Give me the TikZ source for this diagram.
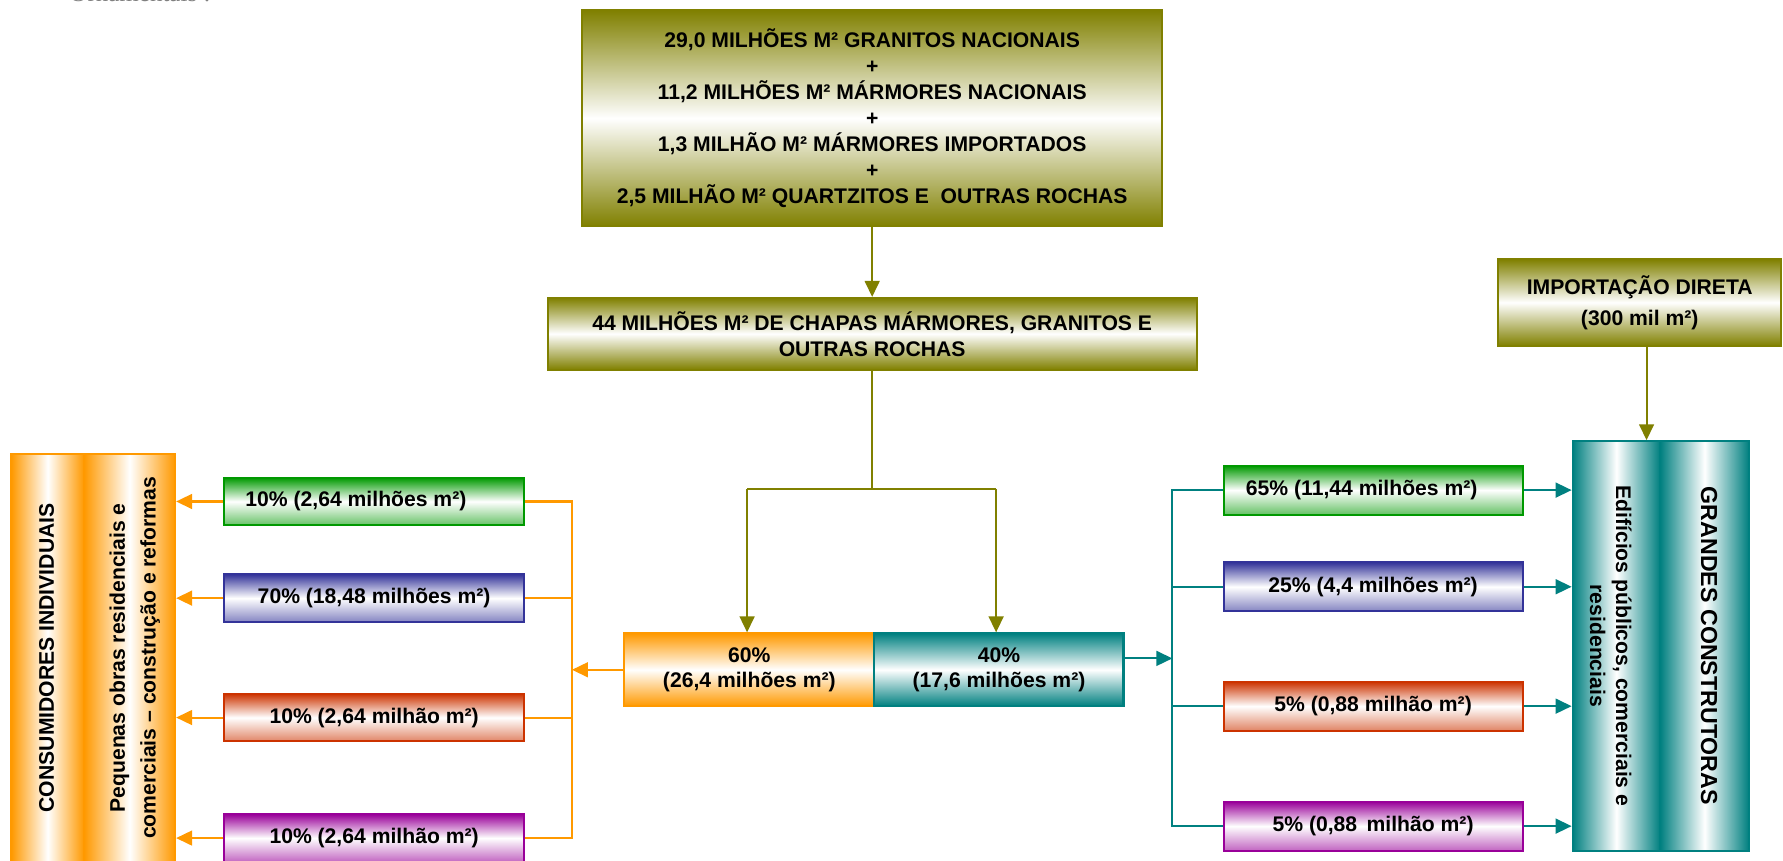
\documentclass[tikz,border=0pt]{standalone}
\usepackage{fontspec}
\setmainfont{Liberation Sans}
\newfontfamily\serifcinza{Liberation Serif}
\usepackage{tikz}
\usetikzlibrary{arrows.meta}

\definecolor{oliva}{HTML}{808000}
\definecolor{laranja}{HTML}{FF9900}
\definecolor{petroleo}{HTML}{008080}
\definecolor{verde}{HTML}{009900}
\definecolor{azul}{HTML}{333399}
\definecolor{vermelho}{HTML}{CC3300}
\definecolor{roxo}{HTML}{990099}

\tikzset{
  olivebox/.style={draw=oliva, line width=0.9pt, top color=oliva, bottom color=oliva, middle color=white, align=center, inner sep=0pt},
  parte/.style={draw=#1, line width=0.9pt, top color=#1, bottom color=#1, middle color=white, minimum height=32pt, align=center, inner sep=0pt},
  fatia/.style={draw=#1, line width=0.9pt, top color=#1, bottom color=#1!60, middle color=white, minimum height=21pt, inner sep=0pt},
  pilar/.style={draw=#1, line width=0.9pt, left color=#1, right color=#1, middle color=white, inner sep=0pt},
  fio/.style={draw=#1, line width=0.9pt},
  seta/.style={draw=#1, line width=0.9pt, -{Triangle[length=7pt,width=6.5pt]}}
}

\begin{document}
\begin{tikzpicture}[x=0.5pt, y=-0.5pt, font=\bfseries\fontsize{9.3}{11.4}\selectfont]
  \useasboundingbox (0,0) rectangle (1568,757);
  \clip (0,0) rectangle (1568,757);

  \node[anchor=base west, text=gray, font=\serifcinza\fontsize{11}{13}\selectfont] (orn) at (54,1.5) {Ornamentais :};

  % producao e chapas
  \node[olivebox, minimum width=255pt, minimum height=95pt] (src) at (767,104)
    {29,0 MILHÕES M² GRANITOS NACIONAIS\\+\\11,2 MILHÕES M² MÁRMORES NACIONAIS\\+\\1,3 MILHÃO M² MÁRMORES IMPORTADOS\\+\\2,5 MILHÃO M² QUARTZITOS E\ \ OUTRAS ROCHAS};
  \node[olivebox, minimum width=285.5pt, minimum height=31.5pt] (chapas) at (767,293.5)
    {44 MILHÕES M² DE CHAPAS MÁRMORES, GRANITOS E\\OUTRAS ROCHAS};
  \node[olivebox, minimum width=124.5pt, minimum height=38pt, font=\bfseries\fontsize{9.3}{13.5}\selectfont] (imp) at (1442,266)
    {IMPORTAÇÃO DIRETA\\(300 mil m²)};

  \node[parte=laranja, minimum width=110pt] (p60) at (659,589) {60\%\\(26,4 milhões m²)};
  \node[parte=petroleo, minimum width=109.5pt] (p40) at (878.5,589) {40\%\\(17,6 milhões m²)};

  % fatias
  \foreach \nome/\yy/\cor/\txt in {l1/441/verde/{10\% (2,64 milhões m²)\hspace*{16pt}}, l2/526/azul/{70\% (18,48 milhões m²)},
      l3/631/vermelho/{10\% (2,64 milhão m²)}, l4/737/roxo/{10\% (2,64 milhão m²)}} {
      \node[fatia=\cor, minimum width=132pt] (\nome) at (329,\yy) {\txt};
    }
  \foreach \nome/\yy/\cor/\txt in {r1/431/verde/{65\% (11,44 milhões m²)\hspace*{10pt}}, r2/516/azul/{25\% (4,4 milhões m²)},
      r3/621/vermelho/{5\% (0,88 milhão m²)}, r4/726.5/roxo/{5\% (0,88\,\ milhão m²)}} {
      \node[fatia=\cor, minimum width=131.5pt, minimum height=21.5pt] (\nome) at (1207.5,\yy) {\txt};
    }

  % pilares
  \node[pilar=laranja, minimum width=32pt, minimum height=179.5pt] (ci) at (42,578.5) {};
  \node[pilar=laranja, minimum width=40pt, minimum height=179.5pt] (po) at (114,578.5) {};
  \node[pilar=petroleo, minimum width=38.5pt, minimum height=180pt] (ed) at (1421.5,568) {};
  \node[pilar=petroleo, minimum width=39pt, minimum height=180pt] (gc) at (1499,568) {};
  \node[rotate=90] (tci) at (41,578.5) {CONSUMIDORES INDIVIDUAIS};
  \node[rotate=90, align=center, font=\bfseries\fontsize{9.3}{13.5}\selectfont] (tpo) at (118.5,578.5)
    {Pequenas obras residenciais e\\comerciais – construção e reformas};
  \node[rotate=-90, align=center, font=\bfseries\fontsize{9.3}{11.5}\selectfont] (ted) at (1416.5,568)
    {Edifícios públicos, comerciais e\\residenciais};
  \node[rotate=-90, font=\bfseries\fontsize{10.2}{12}\selectfont] (tgc) at (1503,568) {GRANDES CONSTRUTORAS};

  % ligacoes oliva
  \coordinate (div) at (767,430);
  \coordinate (dl) at (657,430);
  \coordinate (dr) at (876,430);
  \draw[seta=oliva] (src) -- (chapas);
  \draw[fio=oliva] (chapas) -- (div);
  \draw[fio=oliva] (dl) -- (dr);
  \draw[seta=oliva] (dl) -- (dl |- p60.north);
  \draw[seta=oliva] (dr) -- (dr |- p40.north);
  \draw[seta=oliva] ([xshift=3pt]imp.south) -- ([xshift=3pt]imp.south |- ed.north);

  % ramo laranja
  \coordinate (ob) at (503,589);
  \draw[seta=laranja] (p60) -- (ob);
  \draw[fio=laranja] (l1) -| (ob);
  \draw[fio=laranja] (l4) -| (ob);
  \draw[fio=laranja] (l2) -- (l2 -| ob);
  \draw[fio=laranja] (l3) -- (l3 -| ob);
  \foreach \nome in {l1,l2,l3,l4}
    \draw[seta=laranja] (\nome) -- (\nome -| po.east);

  % ramo petroleo
  \coordinate (tb) at (1031,579);
  \draw[seta=petroleo] (p40.east |- tb) -- (tb);
  \draw[fio=petroleo] (tb) |- (r1);
  \draw[fio=petroleo] (tb) |- (r4);
  \draw[fio=petroleo] (r2 -| tb) -- (r2);
  \draw[fio=petroleo] (r3 -| tb) -- (r3);
  \foreach \nome in {r1,r2,r3,r4}
    \draw[seta=petroleo] (\nome) -- (\nome -| ed.west);
\end{tikzpicture}
\end{document}
